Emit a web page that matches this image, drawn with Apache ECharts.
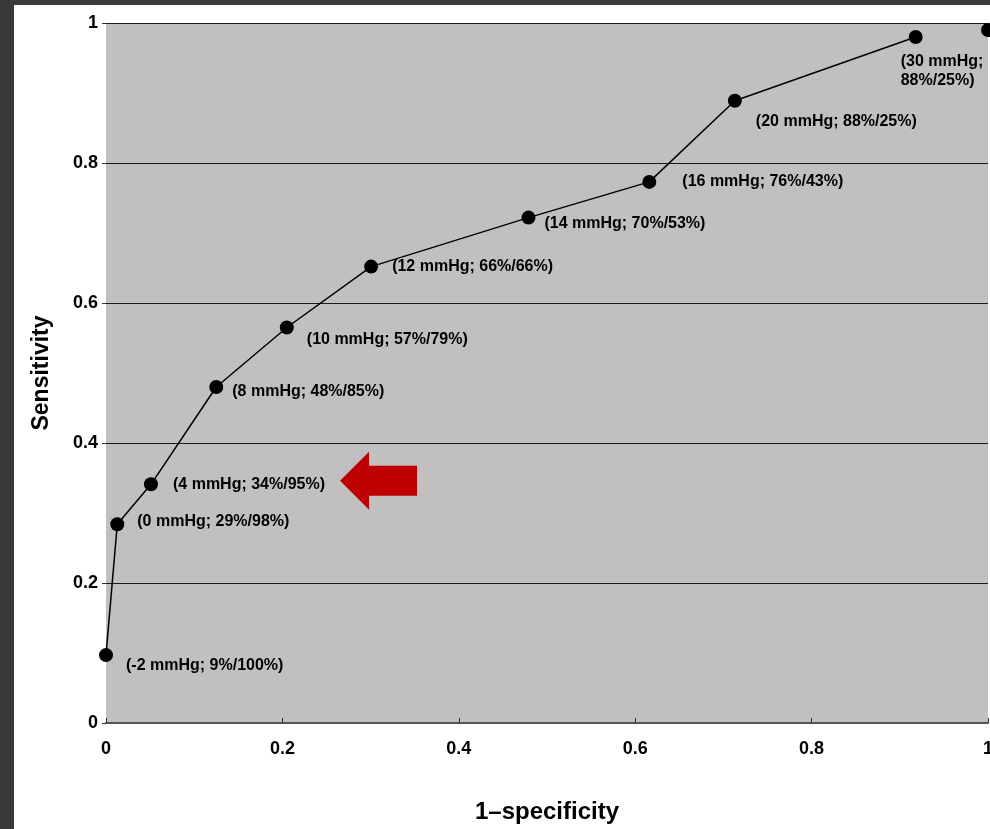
<!DOCTYPE html>
<html>
<head>
<meta charset="utf-8">
<script src="https://cdn.jsdelivr.net/npm/echarts@6/dist/echarts.min.js"></script>
<style>
  html, body { margin: 0; padding: 0; background: #3a3a3a; width: 990px; height: 829px; overflow: hidden; }
  #c { position: absolute; left: 14px; top: 5px; width: 976px; height: 824px; background: #ffffff; }
</style>
</head>
<body>
<div id="c"></div>
<script>
// ---- data ----
const oneMinusSpecificity = [0.000, 0.0128, 0.051, 0.125, 0.205, 0.3006, 0.479, 0.616, 0.713, 0.918];
const sensitivity        = [0.097, 0.284, 0.341, 0.480, 0.565, 0.652, 0.722, 0.773, 0.889, 0.980];
const pointLabels = [
  '(-2 mmHg; 9%/100%)',
  '(0 mmHg; 29%/98%)',
  '(4 mmHg; 34%/95%)',
  '(8 mmHg; 48%/85%)',
  '(10 mmHg; 57%/79%)',
  '(12 mmHg; 66%/66%)',
  '(14 mmHg; 70%/53%)',
  '(16 mmHg; 76%/43%)',
  '(20 mmHg; 88%/25%)',
  '(30 mmHg;\n88%/25%)'
];
const endPoint = [1, 0.99];
const arrowAt = [0.309, 0.346];
const xTicks = [0, 0.2, 0.4, 0.6, 0.8, 1];
const yTicks = [0, 0.2, 0.4, 0.6, 0.8, 1];

// ---- label placement (style, relative to the symbol box) ----
const labelPos = [[27,17],[27,4],[29,7],[23,12],[27,19],[28,7],[23,13],[40,7],[28,28],[-8,41]];

const FONT = '"Liberation Sans", Arial, Helvetica, sans-serif';

const chart = echarts.init(document.getElementById('c'), null, { renderer: 'canvas' });

const lineData = oneMinusSpecificity.map((x, i) => ({
  value: [x, sensitivity[i]],
  label: { position: labelPos[i] }
}));

chart.setOption({
  animation: false,
  backgroundColor: '#ffffff',
  grid: {
    left: 92, top: 18, width: 882, height: 700,
    containLabel: false, outerBoundsMode: 'none',
    show: true, backgroundColor: '#c0c0c0', borderWidth: 0
  },
  xAxis: {
    type: 'value', min: xTicks[0], max: xTicks[xTicks.length - 1], interval: 0.2,
    name: '1\u2013specificity', nameLocation: 'middle', nameGap: 77,
    nameTextStyle: { fontFamily: FONT, fontWeight: 'bold', fontSize: 24, color: '#000' },
    axisLine: { show: true, lineStyle: { color: '#555', width: 2 } },
    axisTick: { show: true, inside: true, length: 5, lineStyle: { color: '#333' } },
    axisLabel: { margin: 17, fontFamily: FONT, fontWeight: 'bold', fontSize: 18, color: '#000' },
    splitLine: { show: false }
  },
  yAxis: {
    type: 'value', min: yTicks[0], max: yTicks[yTicks.length - 1], interval: 0.2,
    name: 'Sensitivity', nameLocation: 'middle', nameGap: 53, nameRotate: 90,
    nameTextStyle: { fontFamily: FONT, fontWeight: 'bold', fontSize: 23, color: '#000' },
    axisLine: { show: false },
    axisTick: { show: true, inside: false, length: 4, lineStyle: { color: '#333' } },
    axisLabel: { margin: 8, fontFamily: FONT, fontWeight: 'bold', fontSize: 18, color: '#000' },
    splitLine: { show: true, lineStyle: { color: '#1a1a1a', width: 1 } }
  },
  series: [
    {
      type: 'line',
      data: lineData,
      clip: false,
      symbol: 'circle',
      symbolSize: 14,
      itemStyle: { color: '#000', opacity: 1 },
      lineStyle: { color: '#000', width: 1.5 },
      label: {
        show: true,
        align: 'left',
        verticalAlign: 'middle',
        fontFamily: FONT,
        fontWeight: 'bold',
        fontSize: 16,
        lineHeight: 19,
        color: '#000',
        formatter: p => pointLabels[p.dataIndex]
      },
      markPoint: {
        silent: true,
        data: [{
          coord: arrowAt,
          symbol: 'path://M0,29 L29,0 L29,14 L77,14 L77,44 L29,44 L29,58 Z',
          symbolSize: [77, 58],
          itemStyle: { color: '#c00000' },
          label: { show: false }
        }]
      }
    },
    {
      type: 'scatter',
      data: [endPoint],
      clip: false,
      symbol: 'circle',
      symbolSize: 14,
      itemStyle: { color: '#000', opacity: 1 }
    }
  ]
});
</script>
</body>
</html>
